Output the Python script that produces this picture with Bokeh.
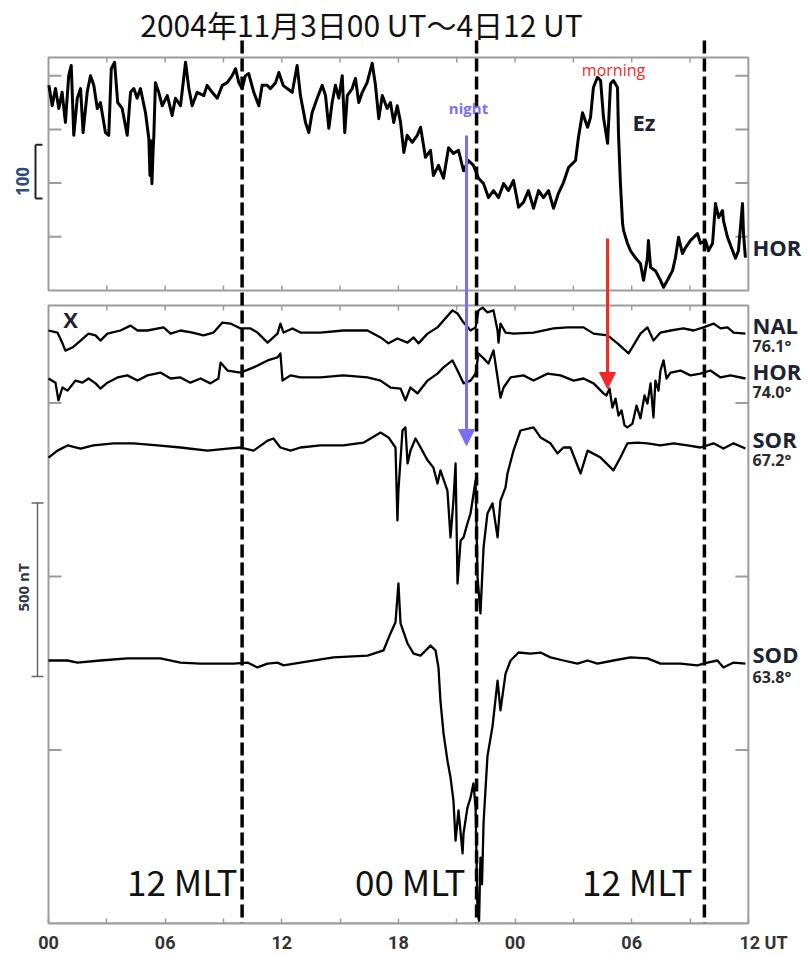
import math
from bokeh.plotting import figure
from bokeh.models import Range1d, LinearAxis, FixedTicker, Label, Arrow, NormalHead
from bokeh.embed import file_html
from bokeh.resources import INLINE

# ------------------------------------------------------------------ data
title_text = "2004年11月3日00 UT～4日12 UT"
ut_ticks = [0, 3, 6, 9, 12, 15, 18, 21, 24, 27, 30, 33, 36]
ut_labels = ["00", "", "06", "", "12", "", "18", "", "00", "", "06", "", "12 UT"]
mlt_lines = [9.96, 22.02, 33.74]          # UT hours of 12 / 00 / 12 MLT
mlt_labels = ["12 MLT", "00 MLT", "12 MLT"]
top_ticks_nT = [100, 200, 300, 400]
bot_ticks_nT = [500, 1000, 1500]

# top panel: HOR east-west (Ez) component, (UT hour, nT) with arbitrary zero
ez = [(0.02,382),(0.19,344),(0.36,376),(0.53,339),(0.70,369),(0.87,313),(1.04,400),(1.17,419),
      (1.30,289),(1.48,358),(1.65,376),(1.78,294),(1.99,369),(2.16,400),(2.33,382),(2.51,339),
      (2.67,350),(2.93,294),(3.10,289),(3.23,413),(3.40,425),(3.56,350),(3.79,339),(4.05,289),
      (4.22,369),(4.39,376),(4.56,358),(4.73,376),(4.99,331),(5.16,283),(5.22,214),(5.27,279),
      (5.32,199),(5.38,261),(5.42,289),(5.50,387),(5.67,369),(5.85,344),(6.11,363),(6.36,326),
      (6.53,358),(6.79,344),(7.05,425),(7.22,376),(7.39,344),(7.65,369),(7.99,363),(8.16,382),
      (8.42,369),(8.68,358),(8.94,382),(9.19,387),(9.45,400),(9.62,413),(9.79,387),(9.96,376),
      (10.13,400),(10.30,404),(10.56,369),(10.82,344),(10.99,382),(11.25,382),(11.42,376),(11.68,387),
      (11.85,406),(12.07,382),(12.28,376),(12.54,369),(12.79,419),(12.96,363),(13.22,313),(13.39,294),
      (13.56,331),(13.82,358),(14.08,382),(14.25,363),(14.42,302),(14.59,350),(14.76,382),(14.93,358),
      (15.11,400),(15.24,294),(15.37,363),(15.62,376),(15.79,395),(15.96,350),(16.14,369),(16.39,387),
      (16.65,423),(16.82,382),(16.99,320),(17.17,363),(17.42,339),(17.59,350),(17.76,313),(17.94,344),
      (18.11,313),(18.28,257),(18.45,289),(18.71,276),(18.97,289),(19.14,304),(19.39,248),(19.65,261),
      (19.80,214),(20.06,233),(20.32,209),(20.58,266),(20.83,255),(21.09,261),(21.35,223),(21.60,242),
      (21.86,233),(22.12,209),(22.38,199),(22.63,173),(22.89,186),(23.15,173),(23.41,199),(23.66,186),
      (23.92,205),(24.18,155),(24.43,164),(24.69,186),(24.95,153),(25.21,186),(25.46,173),(25.72,186),
      (25.98,153),(26.23,181),(26.49,201),(26.75,229),(27.11,242),(27.26,285),(27.47,331),(27.73,304),
      (27.88,322),(28.03,378),(28.24,397),(28.40,391),(28.55,322),(28.76,274),(28.91,385),(29.06,391),
      (29.27,378),(29.32,292),(29.42,199),(29.53,125),(29.58,112),(29.78,88),(29.94,74),(30.19,61),
      (30.45,50),(30.61,19),(30.81,61),(30.86,93),(30.97,43),(31.22,37),(31.48,19),(31.64,6),
      (31.84,19),(32.10,37),(32.25,61),(32.41,99),(32.61,69),(32.77,80),(33.02,93),(33.38,106),
      (33.54,88),(33.80,93),(33.95,74),(34.16,88),(34.31,162),(34.47,136),(34.67,149),(34.72,130),
      (34.93,99),(35.19,74),(35.34,60),(35.49,74),(35.70,162),(35.75,106),(35.85,61)]
ez_t = [a for a, b in ez]
ez_v = [b for a, b in ez]

# bottom panel: X component deviations (nT) at four stations
nal_t = [0.00,0.46,0.72,0.87,1.23,1.65,2.06,2.42,2.67,3.03,
         3.70,4.22,4.58,5.09,5.92,6.28,6.79,7.41,7.97,8.49,
         8.95,9.36,9.88,10.39,10.75,11.27,11.78,11.93,12.09,12.55,
         12.96,13.99,15.17,16.41,17.08,17.49,17.95,18.47,18.78,19.03,
         19.50,20.01,20.32,20.78,21.04,21.35,21.71,21.97,22.12,22.33,
         22.58,22.89,23.10,23.15,23.25,23.51,23.92,24.95,25.98,26.70,
         27.52,28.04,28.76,29.27,29.84,30.09,30.45,30.81,31.12,31.48,
         32.00,32.66,33.18,33.69,34.21,34.57,34.93,35.24,35.85]
nal_v = [0,-6,-37,-58,-49,-29,-9,-14,-29,-9,
         0,14,0,0,9,-9,0,-6,-14,-6,
         23,20,6,6,-6,-35,-9,20,-6,6,
         -6,-6,0,0,-20,-37,-23,-35,-20,-37,
         -9,9,29,58,49,23,0,9,58,66,
         52,58,0,-35,20,-6,-9,-6,6,9,
         9,-9,-14,-37,-66,-43,-9,9,-29,-6,
         0,6,0,9,20,6,9,-6,-9]

hor_t = [0.00,0.36,0.51,0.72,0.98,1.39,1.75,2.06,2.42,2.67,
         3.03,3.55,4.06,4.58,5.09,5.76,6.28,6.79,7.30,7.82,
         8.33,8.74,8.85,9.21,9.88,10.55,11.27,11.78,11.93,12.04,
         12.45,12.96,13.99,15.17,16.41,17.08,17.59,18.11,18.36,18.62,
         18.98,19.50,20.01,20.32,20.78,21.04,21.35,21.71,21.97,22.12,
         22.38,22.63,22.89,23.10,23.25,23.41,23.77,24.43,24.95,25.67,
         26.34,27.01,27.52,28.04,28.55,28.70,28.86,29.01,29.17,29.32,
         29.48,29.63,29.78,30.04,30.25,30.45,30.66,30.81,30.97,31.12,
         31.22,31.38,31.48,31.64,31.79,32.00,32.51,33.02,33.54,34.05,
         34.57,35.08,35.85]
hor_v = [0,-12,-63,-26,-35,-6,-12,0,-14,-29,
         -12,3,9,-6,9,17,0,3,-12,0,
         -14,0,46,23,17,32,52,61,72,-6,
         9,3,3,9,3,-6,-26,-29,-63,-26,
         -43,-6,14,32,52,23,-14,-6,14,72,
         58,43,81,3,-55,-26,3,9,-6,14,
         9,-6,0,-14,-43,-49,-29,-84,-58,-107,
         -92,-135,-141,-130,-78,-115,-49,-72,-14,-112,
         -6,-35,23,52,0,17,23,9,14,23,
         3,9,0]

sor_t = [0.00,0.46,0.98,1.65,2.31,3.34,4.37,5.61,6.79,8.18,
         9.21,9.88,10.55,11.27,11.57,11.93,12.45,12.96,13.99,15.17,
         16.20,17.08,17.49,17.85,17.95,18.00,18.21,18.36,18.47,18.62,
         18.88,19.14,19.50,19.80,20.01,20.16,20.52,20.68,20.83,20.94,
         21.04,21.20,21.35,21.55,21.71,21.97,22.07,22.22,22.38,22.58,
         22.84,23.10,23.25,23.51,23.61,23.92,24.28,24.95,25.31,25.82,
         26.18,26.49,26.85,27.37,27.73,28.40,29.06,29.42,29.78,30.30,
         30.81,31.48,32.15,32.87,33.54,34.21,34.72,35.24,35.85]
sor_v = [-29,-9,6,-3,6,12,12,6,0,-9,
         -3,0,-9,20,26,0,-9,0,6,6,
         14,43,29,0,-210,-124,49,58,-46,-9,
         26,0,-37,-58,-104,-66,-124,-259,-153,-46,
         -392,-268,-259,-219,-190,-95,-374,-478,-288,-190,
         -161,-259,-153,-115,-75,-9,49,58,29,12,
         -17,0,0,-75,-9,-29,-66,-29,12,14,
         12,6,12,6,0,12,-3,12,-3]

sod_t = [0.00,0.98,1.49,2.67,4.06,5.76,6.79,7.82,9.52,10.24,
         10.75,11.27,11.78,12.09,12.96,14.66,16.41,17.23,17.59,17.85,
         18.00,18.11,18.47,18.78,19.14,19.65,19.91,20.06,20.16,20.32,
         20.52,20.68,20.83,20.94,21.09,21.30,21.35,21.55,21.71,21.86,
         21.97,22.07,22.15,22.22,22.30,22.38,22.58,22.84,23.10,23.25,
         23.51,23.77,24.18,24.79,25.31,25.82,26.49,27.21,27.73,28.24,
         29.06,29.94,30.81,31.48,32.51,33.38,33.90,34.41,34.72,35.24,35.85]
sod_v = [0,0,-6,0,6,6,-6,-9,-9,-6,
         -20,-9,-6,-14,-6,9,14,29,78,110,
         222,107,49,20,14,43,29,-20,-115,-210,
         -288,-337,-403,-519,-432,-556,-498,-424,-395,-354,
         -424,-729,-750,-568,-645,-467,-276,-190,-58,-144,
         -38,0,23,20,23,9,0,-9,0,-9,
         0,9,6,-9,-9,-14,-6,0,-20,-6,-9]

station_names = ["NAL", "HOR", "SOR", "SOD"]
station_lats = ["76.1°", "74.0°", "67.2°", "63.8°"]

# ------------------------------------------------------------------ layout
W, H = 807, 956
PX0, PXH = 48.0, 19.44          # pixel column of 00 UT, pixels per hour
FL, FR, FT, FB = 0, 807, 0, 923
BOT_K, TOP_K = 2.882, 1.862     # nT per pixel in bottom / top panel
TOP_ZERO_ROW, TOP_TOP_ROW, BOT_TOP_ROW = 290, 57, 305

def hx(px):
    return (px - PX0) / PXH

def by(row):
    return (FB - row) * BOT_K

def ty(row):
    return (TOP_ZERO_ROW - row) * TOP_K

p = figure(width=W, height=H, output_backend="svg", toolbar_location=None,
           x_range=Range1d(hx(FL), hx(FR)), y_range=Range1d(by(FB), by(FT)),
           x_axis_type=None, y_axis_type=None,
           min_border_left=FL, min_border_right=W - FR,
           min_border_top=FT, min_border_bottom=H - FB)
p.extra_y_ranges = {"top": Range1d(ty(FB), ty(FT))}
p.outline_line_color = None
p.background_fill_color = "white"
p.border_fill_color = "white"

GRAY = "#9c9c9c"
AX_FONT = "Roboto"

# bottom time axis ("12 UT" padded on the left so that "12" sits on its tick)
def pad(lbl):
    return "\u2007\u2007\u2007" + lbl if lbl.endswith("UT") else lbl

xax = LinearAxis(ticker=FixedTicker(ticks=ut_ticks, minor_ticks=[]), bounds=(0, 36))
xax.major_label_overrides = {t: pad(l) for t, l in zip(ut_ticks, ut_labels)}
xax.axis_line_color = GRAY
xax.axis_line_width = 2
xax.major_tick_in = 5
xax.major_tick_out = 0
xax.major_tick_line_color = GRAY
xax.major_tick_line_width = 1.5
xax.minor_tick_line_color = None
xax.major_label_standoff = 8
xax.major_label_text_font = AX_FONT
xax.major_label_text_font_size = "18px"
xax.major_label_text_font_style = "bold"
xax.major_label_text_color = "#333333"
p.add_layout(xax, "below")

# panel frames
top_panel_top = ty(TOP_TOP_ROW)
bot_panel_top = by(BOT_TOP_ROW)
p.quad(left=[0], right=[36], bottom=[0], top=[top_panel_top], y_range_name="top",
       fill_color=None, line_color=GRAY, line_width=2)
p.quad(left=[0], right=[36], bottom=[0], top=[bot_panel_top],
       fill_color=None, line_color=GRAY, line_width=2)

# inward ticks on internal borders
inner = [t for t in ut_ticks if 0 < t < 36]
tk = 5 * TOP_K
p.segment(x0=inner, x1=inner, y0=[top_panel_top] * len(inner), y1=[top_panel_top - tk] * len(inner),
          y_range_name="top", line_color=GRAY, line_width=1.5)
p.segment(x0=inner, x1=inner, y0=[0] * len(inner), y1=[tk] * len(inner),
          y_range_name="top", line_color=GRAY, line_width=1.5)
p.segment(x0=inner, x1=inner, y0=[bot_panel_top] * len(inner), y1=[bot_panel_top - 5 * BOT_K] * len(inner),
          line_color=GRAY, line_width=1.5)
ytl = 13 / PXH
for ticks, rng in ((top_ticks_nT, "top"), (bot_ticks_nT, "default")):
    n = len(ticks)
    p.segment(x0=[0] * n, x1=[ytl] * n, y0=ticks, y1=ticks, y_range_name=rng,
              line_color=GRAY, line_width=2)
    p.segment(x0=[36] * n, x1=[36 - ytl] * n, y0=ticks, y1=ticks, y_range_name=rng,
              line_color=GRAY, line_width=2)

# scale bars
b0 = ty(198)
p.segment(x0=[hx(35)], x1=[hx(35)], y0=[b0], y1=[b0 + 100], y_range_name="top",
          line_color="#222222", line_width=2)
p.segment(x0=[hx(35)] * 2, x1=[hx(42)] * 2, y0=[b0, b0 + 100], y1=[b0, b0 + 100],
          y_range_name="top", line_color="#222222", line_width=2)
s0 = by(676)
p.segment(x0=[hx(37)], x1=[hx(37)], y0=[s0], y1=[s0 + 500], line_color="#666666", line_width=1.5)
p.segment(x0=[hx(31)] * 2, x1=[hx(43)] * 2, y0=[s0, s0 + 500], y1=[s0, s0 + 500],
          line_color="#666666", line_width=1.5)

# traces
p.line(ez_t, ez_v, y_range_name="top", line_color="black", line_width=3.0, line_join="round")
offsets = {"NAL": by(330), "HOR": by(378), "SOR": by(447), "SOD": by(660)}
for name, tt, vv in (("NAL", nal_t, nal_v), ("HOR", hor_t, hor_v),
                     ("SOR", sor_t, sor_v), ("SOD", sod_t, sod_v)):
    p.line(tt, [v + offsets[name] for v in vv], line_color="black", line_width=2.3,
           line_join="round")

# MLT dashed lines (from just under the title down to the time axis)
n = len(mlt_lines)
p.segment(x0=mlt_lines, x1=mlt_lines, y0=[by(40)] * n, y1=[by(FB)] * n,
          line_color="black", line_width=3.5, line_dash="13 5")

def label(x, y, text, size, color="#1c2333", style="bold", align="left",
          baseline="middle", font="Open Sans", angle=0):
    p.add_layout(Label(x=x, y=y, text=text, text_font=font,
                       text_font_size=size, text_font_style=style, text_color=color,
                       text_align=align, text_baseline=baseline, angle=angle))

label(hx(361), by(23), title_text, "30px", color="#111111", style="normal",
      align="center", font="Noto Sans CJK JP")

for xr, txt in zip([237, 465, 692], mlt_labels):
    label(hx(xr), by(880), txt, "35px", color="#111111", style="normal",
          align="right", baseline="middle", font="Noto Sans CJK JP")

# arrows
BLUE, RED = "#7b6ef6", "#f02a2a"
p.add_layout(Arrow(end=NormalHead(size=16, fill_color=BLUE, line_color=BLUE),
                   x_start=hx(466), y_start=by(135), x_end=hx(466), y_end=by(445),
                   line_color=BLUE, line_width=3))
p.add_layout(Arrow(end=NormalHead(size=16, fill_color=RED, line_color=RED),
                   x_start=hx(607), y_start=by(238), x_end=hx(607), y_end=by(388),
                   line_color=RED, line_width=3))
label(hx(468), by(107), "night", "15px", color=BLUE, align="center")
label(hx(613), by(69), "morning", "16px", color=RED, style="normal", align="center")
label(hx(632), by(121), "Ez", "22px")
label(hx(752), by(246), "HOR", "22px")
label(hx(70), by(318), "X", "22px", align="center")
label(hx(22), by(181), "100", "17px", color="#2b4c7e", align="center", angle=math.pi / 2)
label(hx(22), by(587), "500 nT", "15px", color="#2a3550", align="center", angle=math.pi / 2)

name_rows = [324, 370, 438, 653]
lat_rows = [345, 391, 459, 676]
for nm, lat, r1, r2 in zip(station_names, station_lats, name_rows, lat_rows):
    label(hx(752), by(r1), nm, "22px")
    label(hx(752), by(r2), lat, "16px", color="#2a2a2a")

open("out.html", "w").write(file_html(p, INLINE))
